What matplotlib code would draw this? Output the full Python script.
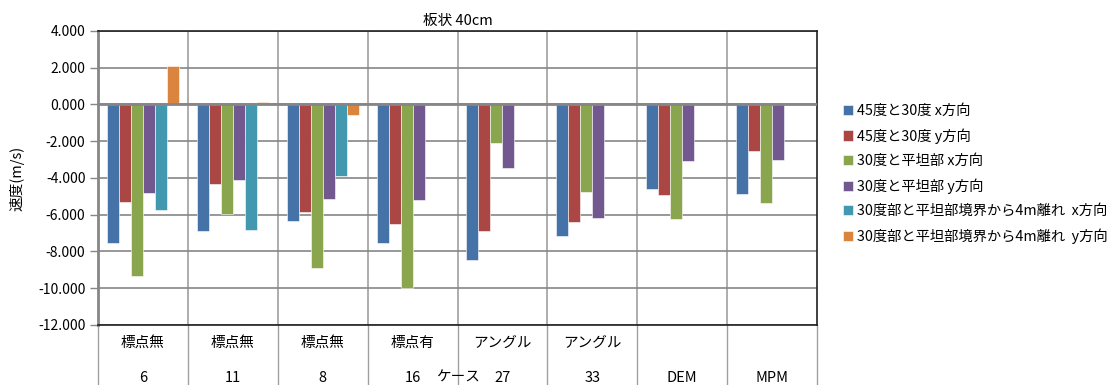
import numpy as np
import matplotlib
matplotlib.use('Agg')
import matplotlib.pyplot as plt

plt.rcParams['font.family'] = ['Noto Sans CJK JP', 'DejaVu Sans']

# categories (two-level axis)
cat_top = ['標点無', '標点無', '標点無', '標点有', 'アングル', 'アングル', '', '']
cat_bottom = ['6', '11', '8', '16', '27', '33', 'DEM', 'MPM']

series_names = ['45度と30度 x方向', '45度と30度 y方向', '30度と平坦部 x方向',
                '30度と平坦部 y方向', '30度部と平坦部境界から4m離れ  x方向',
                '30度部と平坦部境界から4m離れ  y方向']
colors = ['#4572A7', '#AA4643', '#89A54E', '#71588F', '#4198AF', '#DB843D']

nan = np.nan
s1 = [-7.55, -6.91, -6.34, -7.55, -8.45, -7.18, -4.60, -4.86]
s2 = [-5.29, -4.33, -5.85, -6.53, -6.88, -6.37, -4.93, -2.53]
s3 = [-9.35, -5.97, -8.92, -10.0, -2.09, -4.75, -6.25, -5.36]
s4 = [-4.84, -4.13, -5.14, -5.22, -3.43, -6.17, -3.09, -3.03]
s5 = [-5.72, -6.84, -3.88, nan, nan, nan, nan, nan]
s6 = [2.08, 0.11, -0.55, nan, nan, nan, nan, nan]
series = [s1, s2, s3, s4, s5, s6]

fig = plt.figure(figsize=(11.19, 3.85), dpi=100)
ax = fig.add_axes([98/1119, 60/385, (817-98)/1119, (325-31)/385])

n = len(cat_bottom)
w = 1/7.5
x0 = np.arange(n)
for i, (vals, c, lab) in enumerate(zip(series, colors, series_names)):
    ax.bar(x0 + 0.1 + w*(i+0.5), vals, width=w, color=c, label=lab,
           edgecolor='white', linewidth=0.4, zorder=3)

ax.set_xlim(0, n)
ax.set_ylim(-12, 4)
ax.set_yticks(np.arange(-12, 5, 2))
ax.set_yticklabels(['%.3f' % v for v in np.arange(-12, 5, 2)], fontsize=10)
ax.set_xticks([])
ax.grid(axis='y', color='#868686', linewidth=1.2, zorder=0)
for b in range(1, n):
    ax.axvline(b, color='#a0a0a0', linewidth=1.2, zorder=0)
ax.axhline(0, color='#868686', linewidth=2, zorder=4)

for side in ['top', 'right', 'bottom']:
    ax.spines[side].set_color('#202020')
    ax.spines[side].set_linewidth(1.2)
ax.spines['left'].set_color('#868686')
ax.spines['left'].set_linewidth(2)
ax.tick_params(axis='y', length=6, color='#868686', width=1, pad=3)

# two-level category labels
tr = ax.get_xaxis_transform()
for i in range(n):
    ax.text(i + 0.5, -0.06, cat_top[i], transform=tr, ha='center', va='center', fontsize=10.5)
    ax.text(i + 0.5, -0.18, cat_bottom[i], transform=tr, ha='center', va='center', fontsize=10.5)
for b in range(n + 1):
    ax.plot([b, b], [0, -0.21], transform=tr, color='#a0a0a0', linewidth=1, clip_on=False)

ax.text(4.0, -0.18, 'ケース', transform=tr, ha='center', va='center', fontsize=10.5)
ax.set_title('板状 40cm', fontsize=10.5, pad=4)
ax.set_ylabel('速度(m/s)', fontsize=10.5)
ax.yaxis.set_label_coords(17/1119, 1 - 178/385, transform=fig.transFigure)
ax.yaxis.label.set_va('center')

ax.legend(loc='upper left', bbox_to_anchor=(837/1119, 0.745), bbox_transform=fig.transFigure,
          frameon=False, fontsize=10.3, handlelength=0.75, handleheight=0.75,
          handletextpad=0.25, labelspacing=0.72, borderaxespad=0)

fig.savefig('out.png', dpi=100)
